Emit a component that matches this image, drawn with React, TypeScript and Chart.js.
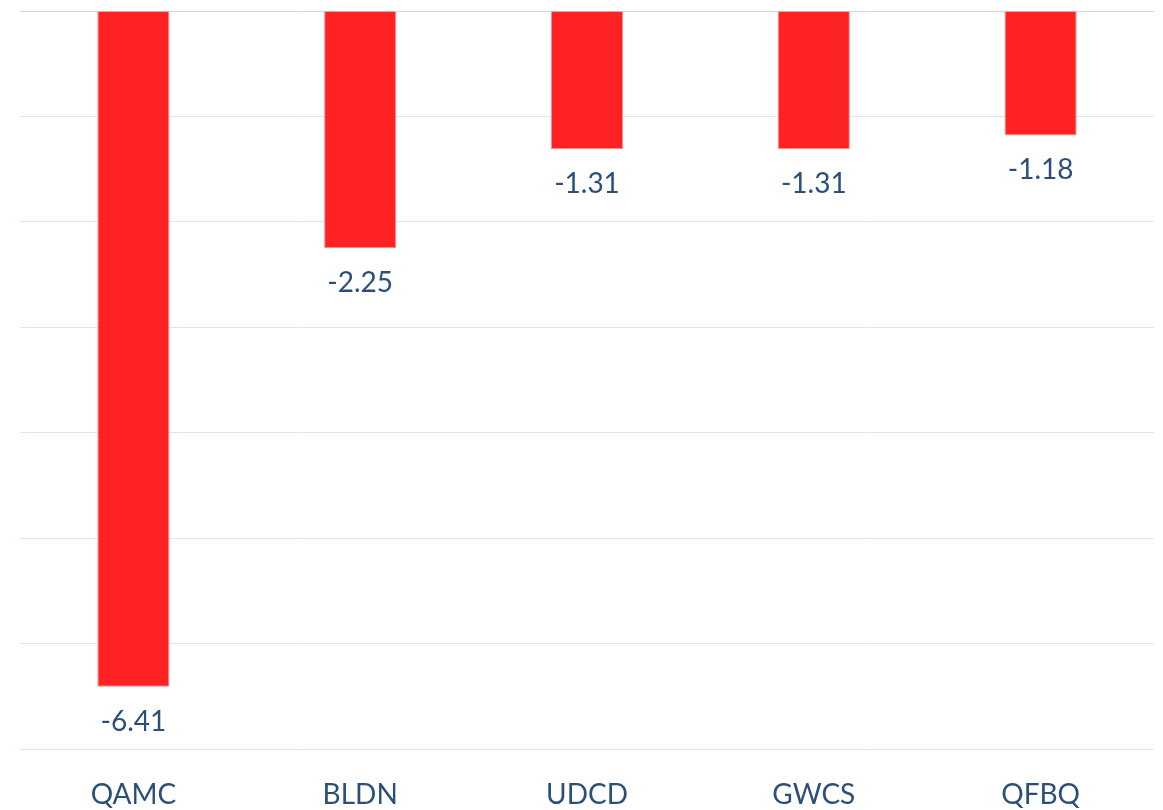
import React, { useEffect, useRef } from "react";
import { Chart, registerables } from "chart.js";

Chart.register(...registerables);

const categories = ["QAMC", "BLDN", "UDCD", "GWCS", "QFBQ"];
const values = [-6.41, -2.25, -1.31, -1.31, -1.18];
const yMin = -7;
const yMax = 0;

const FONT = "Lato, 'Open Sans', sans-serif";
const TEXT = "#2b4f78";

const valueLabels = {
  id: "valueLabels",
  afterDatasetsDraw(chart: any) {
    const ctx = chart.ctx;
    const meta = chart.getDatasetMeta(0);
    ctx.save();
    ctx.font = `28px ${FONT}`;
    ctx.fillStyle = TEXT;
    ctx.textAlign = "center";
    ctx.textBaseline = "middle";
    meta.data.forEach((bar: any, i: number) => {
      ctx.fillText(values[i].toFixed(2), bar.x, bar.y + 35);
    });
    ctx.restore();
  },
};

export default function App() {
  const ref = useRef<HTMLCanvasElement | null>(null);
  useEffect(() => {
    if (!ref.current) return;
    const chart = new Chart(ref.current, {
      type: "bar",
      data: {
        labels: categories,
        datasets: [
          {
            data: values,
            backgroundColor: "#ff2222",
            borderColor: "#ff8a8a",
            borderWidth: 1,
            barPercentage: 0.318,
            categoryPercentage: 1,
          },
        ],
      },
      plugins: [valueLabels],
      options: {
        animation: false,
        responsive: false,
        maintainAspectRatio: false,
        layout: { padding: { left: 20, right: 9, top: 11, bottom: 0 } },
        plugins: { legend: { display: false }, tooltip: { enabled: false } },
        scales: {
          x: {
            position: "bottom",
            grid: { display: false },
            border: { display: false },
            ticks: {
              color: TEXT,
              font: { family: FONT, size: 28 },
              padding: 21,
            },
            afterFit(scale: any) {
              scale.height = 61;
            },
          },
          y: {
            min: yMin,
            max: yMax,
            ticks: { display: false, stepSize: 1 },
            border: { display: false },
            grid: {
              drawTicks: false,
              lineWidth: 1,
              color: (c: any) => (c.tick && c.tick.value === 0 ? "#d6d6d6" : "#dce6f1"),
            },
            afterFit(scale: any) {
              scale.width = 0;
            },
          },
        },
      },
    });
    return () => chart.destroy();
  }, []);
  return (
    <div style={{ position: "absolute", left: 0, top: 0, width: 1163, height: 810, background: "#fff" }}>
      <canvas ref={ref} width={1163} height={810} style={{ width: 1163, height: 810 }} />
    </div>
  );
}
